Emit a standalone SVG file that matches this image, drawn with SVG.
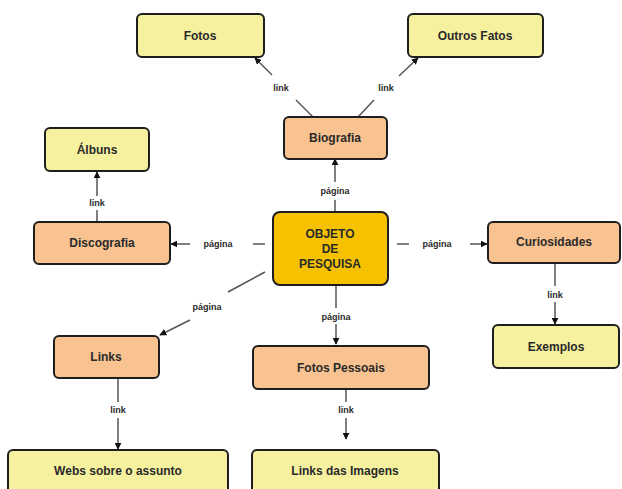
<svg xmlns="http://www.w3.org/2000/svg" width="622" height="489" viewBox="0 0 622 489">
<style>
.n{stroke:#1e1e1e;stroke-width:2;}
.y{fill:#f6f19e;}
.o{fill:#f8c291;}
.c{fill:#f6c200;}
.t{font-family:"Liberation Sans",Arial,sans-serif;font-weight:bold;font-size:12px;fill:#2a2a2a;text-anchor:middle;}
.l{font-family:"Liberation Sans",Arial,sans-serif;font-weight:bold;font-size:9px;fill:#2a2a2a;text-anchor:middle;}
.e{stroke:#555;stroke-width:1.5;fill:none;}
</style>
<defs>
<marker id="a" viewBox="0 0 10 10" refX="9" refY="5" markerWidth="7" markerHeight="7" orient="auto" markerUnits="userSpaceOnUse">
<path d="M0,0 L10,5 L0,10 z" fill="#111"/>
</marker>
</defs>
<rect width="622" height="489" fill="#fff"/>
<g id="connectors">
<path class="e" d="M313,117 L296,100"/>
<path class="e" d="M272,75 L255,58" marker-end="url(#a)"/>
<text class="l" x="281" y="91">link</text>
<path class="e" d="M358,117 L374,100"/>
<path class="e" d="M399,76 L418,58" marker-end="url(#a)"/>
<text class="l" x="386" y="91">link</text>
<path class="e" d="M335,211 L335,200"/>
<path class="e" d="M335,182 L335,159" marker-end="url(#a)"/>
<text class="l" x="335" y="194">página</text>
<path class="e" d="M265,244 L253,244"/>
<path class="e" d="M190,244 L171,244" marker-end="url(#a)"/>
<text class="l" x="218" y="247">página</text>
<path class="e" d="M97,221 L97,210"/>
<path class="e" d="M97,196 L97,172" marker-end="url(#a)"/>
<text class="l" x="97" y="206">link</text>
<path class="e" d="M397,244 L409,244"/>
<path class="e" d="M470,244 L487,244" marker-end="url(#a)"/>
<text class="l" x="437" y="247">página</text>
<path class="e" d="M555,264 L555,286"/>
<path class="e" d="M555,302 L555,324" marker-end="url(#a)"/>
<text class="l" x="555" y="298">link</text>
<path class="e" d="M336,286 L336,308"/>
<path class="e" d="M336,324 L336,344" marker-end="url(#a)"/>
<text class="l" x="336" y="320">página</text>
<path class="e" d="M265,272 L228,292"/>
<path class="e" d="M190,320 L160,335" marker-end="url(#a)"/>
<text class="l" x="207" y="310">página</text>
<path class="e" d="M118,379 L118,402"/>
<path class="e" d="M118,418 L118,449" marker-end="url(#a)"/>
<text class="l" x="118" y="413">link</text>
<path class="e" d="M346,390 L346,402"/>
<path class="e" d="M346,418 L346,439" marker-end="url(#a)"/>
<text class="l" x="346" y="413">link</text>
</g>
<g id="fotos"><rect class="n y" x="137" y="14" width="127" height="43" rx="5"/><text class="t" x="200" y="40">Fotos</text></g>
<g id="outros-fatos"><rect class="n y" x="408" y="14" width="135" height="43" rx="5"/><text class="t" x="475" y="40">Outros Fatos</text></g>
<g id="biografia"><rect class="n o" x="284" y="117" width="103" height="42" rx="5"/><text class="t" x="335" y="142">Biografia</text></g>
<g id="albuns"><rect class="n y" x="45" y="128" width="104" height="43" rx="5"/><text class="t" x="97" y="154">Álbuns</text></g>
<g id="discografia"><rect class="n o" x="34" y="222" width="136" height="42" rx="5"/><text class="t" x="102" y="247">Discografia</text></g>
<g id="objeto"><rect class="n c" x="273" y="212" width="115" height="73" rx="7"/><text class="t" x="330" y="238">OBJETO</text><text class="t" x="330" y="253">DE</text><text class="t" x="330" y="268">PESQUISA</text></g>
<g id="curiosidades"><rect class="n o" x="488" y="222" width="132" height="41" rx="5"/><text class="t" x="554" y="246">Curiosidades</text></g>
<g id="exemplos"><rect class="n y" x="493" y="325" width="126" height="43" rx="5"/><text class="t" x="556" y="351">Exemplos</text></g>
<g id="links"><rect class="n o" x="54" y="336" width="105" height="42" rx="5"/><text class="t" x="106" y="361">Links</text></g>
<g id="fotos-pessoais"><rect class="n o" x="253" y="346" width="176" height="43" rx="5"/><text class="t" x="341" y="372">Fotos Pessoais</text></g>
<g id="webs"><rect class="n y" x="8" y="450" width="220" height="45" rx="5"/><text class="t" x="118" y="475">Webs sobre o assunto</text></g>
<g id="links-imagens"><rect class="n y" x="252" y="450" width="187" height="45" rx="5"/><text class="t" x="345" y="475">Links das Imagens</text></g>
</svg>
